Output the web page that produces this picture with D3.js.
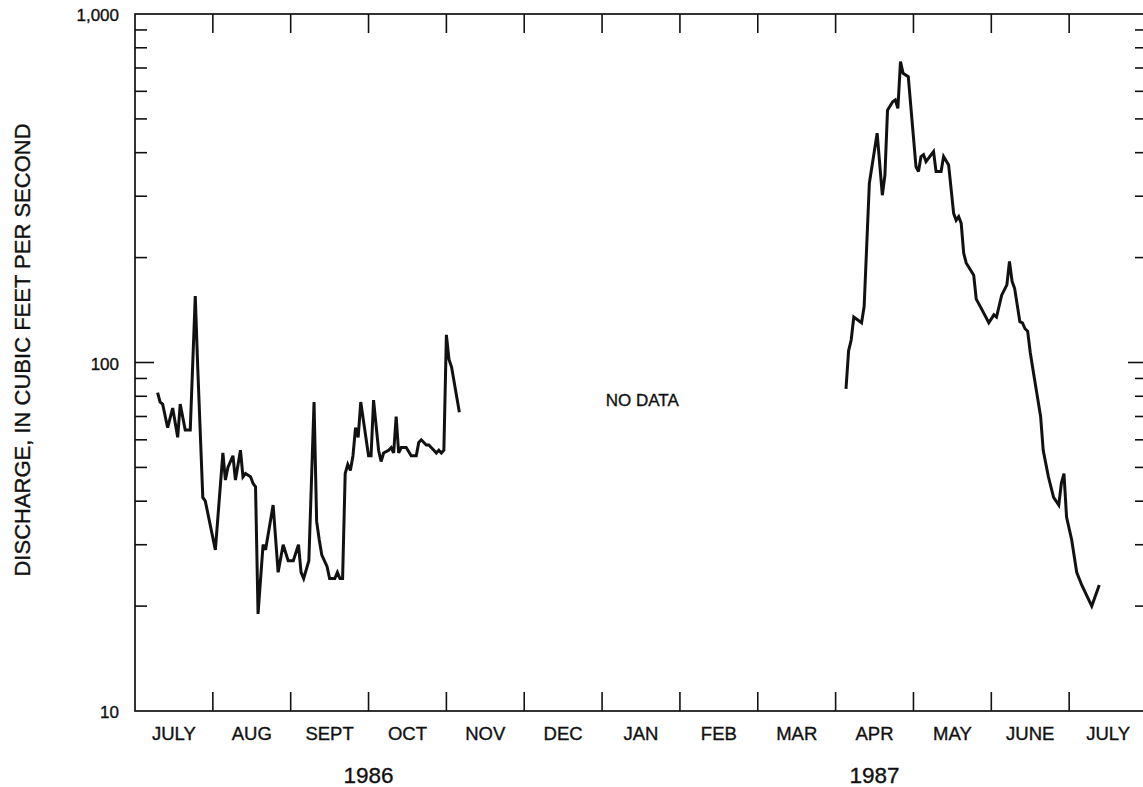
<!DOCTYPE html>
<html>
<head>
<meta charset="utf-8">
<script src="https://cdn.jsdelivr.net/npm/d3@7"></script>
<style>
  html, body { margin: 0; padding: 0; background: #fff; }
  svg { display: block; }
  text { font-family: "Liberation Sans", Arial, Helvetica, sans-serif; fill: #111; stroke: #111; stroke-width: 0.35px; }
</style>
</head>
<body>
<svg id="chart" width="1143" height="787"></svg>
<script>
// Daily mean discharge, water years 1986-87 (cubic feet per second)
const dates1986 = [
  "1986-07-10","1986-07-11","1986-07-12","1986-07-14","1986-07-16","1986-07-18","1986-07-19",
  "1986-07-21","1986-07-23","1986-07-25","1986-07-26","1986-07-28","1986-07-29","1986-08-02",
  "1986-08-05","1986-08-06","1986-08-07","1986-08-09","1986-08-10","1986-08-12","1986-08-13",
  "1986-08-14","1986-08-16","1986-08-17","1986-08-18","1986-08-19","1986-08-21","1986-08-22",
  "1986-08-25","1986-08-27","1986-08-29","1986-08-31","1986-09-02","1986-09-04","1986-09-05",
  "1986-09-06","1986-09-08","1986-09-10","1986-09-11","1986-09-12","1986-09-13","1986-09-15",
  "1986-09-16","1986-09-18","1986-09-19","1986-09-20","1986-09-21","1986-09-22","1986-09-23",
  "1986-09-24","1986-09-25","1986-09-26","1986-09-27","1986-09-28","1986-10-01","1986-10-02",
  "1986-10-03","1986-10-05","1986-10-06","1986-10-07","1986-10-09","1986-10-10","1986-10-11",
  "1986-10-12","1986-10-13","1986-10-14","1986-10-16","1986-10-18","1986-10-20","1986-10-21",
  "1986-10-22","1986-10-24","1986-10-25","1986-10-27","1986-10-28","1986-10-29","1986-10-30",
  "1986-10-31","1986-11-01","1986-11-02","1986-11-03","1986-11-06"
];
const flow1986 = [
  82, 77, 76, 65, 74, 61, 76,
  64, 64, 155, 96, 41, 40, 29,
  55, 46, 50, 54, 46, 56, 47,
  48, 47, 45, 44, 19, 30, 29,
  39, 25, 30, 27, 27, 30, 25,
  24, 27, 77, 35, 31, 28, 26,
  24, 24, 25, 24, 24, 48, 51,
  49, 54, 65, 61, 77, 54, 54,
  78, 56, 52, 55, 56, 57, 55,
  70, 55, 57, 57, 54, 54, 59,
  60, 58, 58, 56, 55, 56, 55,
  56, 120, 102, 97, 72
];

const dates1987 = [
  "1987-04-05","1987-04-06","1987-04-07","1987-04-08","1987-04-11","1987-04-12","1987-04-14",
  "1987-04-17","1987-04-19","1987-04-20","1987-04-21","1987-04-23","1987-04-24","1987-04-25",
  "1987-04-26","1987-04-27","1987-04-29","1987-05-02","1987-05-03","1987-05-04","1987-05-05",
  "1987-05-06","1987-05-08","1987-05-09","1987-05-10","1987-05-12","1987-05-13","1987-05-15",
  "1987-05-17","1987-05-18","1987-05-19","1987-05-20","1987-05-21","1987-05-22","1987-05-25",
  "1987-05-26","1987-05-28","1987-05-31","1987-06-02","1987-06-03","1987-06-05","1987-06-07",
  "1987-06-08","1987-06-09","1987-06-10","1987-06-12","1987-06-13","1987-06-14","1987-06-15",
  "1987-06-16","1987-06-17","1987-06-20","1987-06-21","1987-06-23","1987-06-25","1987-06-27",
  "1987-06-28","1987-06-29","1987-06-30","1987-07-02","1987-07-04","1987-07-06","1987-07-10",
  "1987-07-13"
];
const flow1987 = [
  84, 108, 116, 135, 130, 145, 327,
  455, 302, 345, 530, 560, 567, 536,
  730, 676, 661, 365, 353, 390, 395,
  377, 394, 403, 353, 353, 390, 369,
  268, 256, 262, 251, 206, 193, 178,
  152, 143, 130, 137, 135, 156, 167,
  195, 171, 163, 131, 130, 125, 123,
  107, 96, 70, 56, 47, 41, 39,
  45, 48, 36, 31, 25, 23, 20,
  23
];

const monthLabels = ["JULY","AUG","SEPT","OCT","NOV","DEC","JAN","FEB","MAR","APR","MAY","JUNE","JULY"];
const yearLabels = ["1986", "1987"];
const yearMonthSpans = [[0, 6], [6, 13]];   // month index ranges covered by each year label
const yTickValues = [10, 100, 1000];
const yTickText = ["10", "100", "1,000"];
const noDataDate = "1987-01-17";
const noDataFlow = 78;

// ---- layout ----
const svg = d3.select("#chart");
const plotLeft = 135, plotRight = 1147, plotTop = 14, plotBottom = 711;

// months are drawn with equal widths; a date maps to month index + fraction of month
const startYear = 1986, startMonth = 6; // July 1986 (0-based month)
function monthPos(str) {
  const [yr, m, d] = str.split("-").map(Number);
  const idx = (yr - startYear) * 12 + (m - 1) - startMonth;
  const dim = new Date(yr, m, 0).getDate();
  return idx + (d - 1) / dim;
}

const x = d3.scaleLinear().domain([0, monthLabels.length]).range([plotLeft, plotRight]);
const y = d3.scaleLog().domain([10, 1000]).range([plotBottom, plotTop]);

const ink = "#111";

// frame
svg.append("rect")
  .attr("x", plotLeft).attr("y", plotTop)
  .attr("width", plotRight - plotLeft).attr("height", plotBottom - plotTop)
  .attr("fill", "none").attr("stroke", ink).attr("stroke-width", 1.7);

// month ticks on top and bottom edges
const monthTicks = d3.range(1, monthLabels.length);
svg.append("g").selectAll("line").data(monthTicks).join("line")
  .attr("x1", d => x(d)).attr("x2", d => x(d))
  .attr("y1", plotTop).attr("y2", plotTop + 19)
  .attr("stroke", ink).attr("stroke-width", 1.6);
svg.append("g").selectAll("line").data(monthTicks).join("line")
  .attr("x1", d => x(d)).attr("x2", d => x(d))
  .attr("y1", plotBottom).attr("y2", plotBottom - 19)
  .attr("stroke", ink).attr("stroke-width", 1.6);

// log ticks on left and right edges
const minor = [];
[10, 100].forEach(dec => { for (let k = 2; k <= 9; k++) minor.push(dec * k); });
const major = [100];
[[plotLeft, 1], [plotRight, -1]].forEach(([ex, dir]) => {
  svg.append("g").selectAll("line").data(minor).join("line")
    .attr("x1", ex).attr("x2", ex + dir * 12)
    .attr("y1", d => y(d)).attr("y2", d => y(d))
    .attr("stroke", ink).attr("stroke-width", 1.6);
  svg.append("g").selectAll("line").data(major).join("line")
    .attr("x1", ex).attr("x2", ex + dir * 19)
    .attr("y1", d => y(d)).attr("y2", d => y(d))
    .attr("stroke", ink).attr("stroke-width", 1.6);
});

// y tick labels
svg.append("g").selectAll("text").data(yTickValues).join("text")
  .attr("x", 119).attr("y", d => y(d) + 7)
  .attr("text-anchor", "end")
  .attr("font-size", 17)
  .text((d, i) => yTickText[i]);

// month labels
svg.append("g").selectAll("text").data(monthLabels).join("text")
  .attr("x", (d, i) => x(i + 0.5)).attr("y", 740)
  .attr("text-anchor", "middle")
  .attr("font-size", 18.5)
  .text(d => d);

// year labels
svg.append("g").selectAll("text").data(yearLabels).join("text")
  .attr("x", (d, i) => x((yearMonthSpans[i][0] + yearMonthSpans[i][1]) / 2)).attr("y", 783)
  .attr("text-anchor", "middle")
  .attr("font-size", 22.5)
  .text(d => d);

// axis title
svg.append("text")
  .attr("transform", "translate(30,350) rotate(-90)")
  .attr("text-anchor", "middle")
  .attr("font-size", 22)
  .text("DISCHARGE, IN CUBIC FEET PER SECOND");

// gap annotation
svg.append("text")
  .attr("x", x(monthPos(noDataDate))).attr("y", y(noDataFlow) + 6)
  .attr("text-anchor", "middle")
  .attr("font-size", 17)
  .text("NO DATA");

// hydrograph lines
const line = d3.line()
  .x(d => x(monthPos(d[0])))
  .y(d => y(d[1]));

[[dates1986, flow1986], [dates1987, flow1987]].forEach(([ds, vs]) => {
  svg.append("path")
    .datum(ds.map((d, i) => [d, vs[i]]))
    .attr("d", line)
    .attr("fill", "none")
    .attr("stroke", ink)
    .attr("stroke-width", 3)
    .attr("stroke-linejoin", "miter")
    .attr("stroke-miterlimit", 3);
});
</script>
</body>
</html>
